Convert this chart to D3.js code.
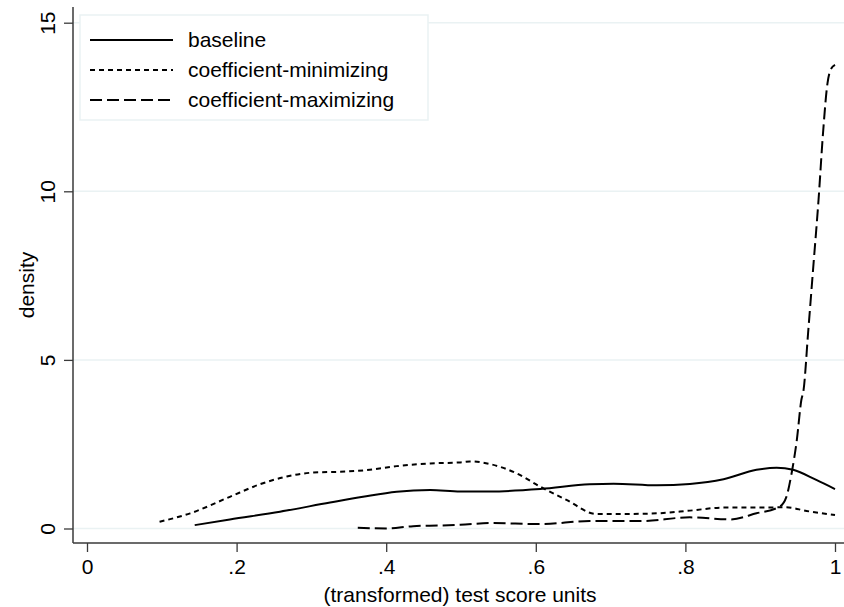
<!DOCTYPE html>
<html>
<head>
<meta charset="utf-8">
<script src="https://cdn.jsdelivr.net/npm/d3@7"></script>
<style>
  body { margin: 0; background: #fff; }
  svg { font-family: "Liberation Sans", Arial, Helvetica, sans-serif; }
</style>
</head>
<body>
<div id="chart"></div>
<script>
// values: [x, density]
var baseline = [
  [0.144, 0.10], [0.191, 0.27], [0.258, 0.50], [0.325, 0.77], [0.369, 0.94],
  [0.414, 1.09], [0.459, 1.14], [0.499, 1.10], [0.539, 1.10], [0.606, 1.17],
  [0.672, 1.31], [0.704, 1.33], [0.762, 1.28], [0.806, 1.32], [0.851, 1.46],
  [0.895, 1.74], [0.922, 1.80], [0.944, 1.74], [0.975, 1.44], [1.0, 1.17]
];
var coefMin = [
  [0.097, 0.20], [0.138, 0.45], [0.191, 0.94], [0.231, 1.31], [0.267, 1.54],
  [0.303, 1.66], [0.347, 1.69], [0.378, 1.74], [0.414, 1.85], [0.459, 1.93],
  [0.499, 1.96], [0.512, 1.99], [0.539, 1.91], [0.574, 1.64], [0.606, 1.24],
  [0.641, 0.85], [0.681, 0.43], [0.717, 0.43], [0.762, 0.45], [0.806, 0.53],
  [0.851, 0.62], [0.895, 0.62], [0.935, 0.63], [0.962, 0.52], [1.0, 0.40]
];
var coefMax = [
  [0.362, 0.02], [0.40, 0.0], [0.436, 0.07], [0.472, 0.09], [0.499, 0.11],
  [0.539, 0.16], [0.606, 0.13], [0.672, 0.22], [0.739, 0.22], [0.806, 0.33],
  [0.860, 0.27], [0.895, 0.45], [0.926, 0.65], [0.935, 0.94], [0.942, 1.64],
  [0.949, 2.63], [0.955, 3.81], [0.958, 4.11], [0.964, 5.79], [0.971, 7.77],
  [0.978, 9.75], [0.984, 11.73], [0.990, 13.21], [0.994, 13.6], [1.0, 13.75]
];
var xTicks = [0, 0.2, 0.4, 0.6, 0.8, 1];
var xTickLabels = ["0", ".2", ".4", ".6", ".8", "1"];
var yTicks = [0, 5, 10, 15];
var seriesNames = ["baseline", "coefficient-minimizing", "coefficient-maximizing"];

var width = 844, height = 607;
var axisLeftX = 73, axisBottomY = 543;

var svg = d3.select("#chart").append("svg")
    .attr("width", width)
    .attr("height", height);

var x = d3.scaleLinear().domain([0, 1]).range([87, 835]);
var y = d3.scaleLinear().domain([0, 15]).range([528.5, 22.7]);

// grid lines
svg.append("g")
    .selectAll("line")
    .data(yTicks)
    .enter()
        .append("line")
        .attr("x1", axisLeftX)
        .attr("x2", width)
        .attr("y1", function(d) { return y(d); })
        .attr("y2", function(d) { return y(d); })
        .attr("stroke", "#eaf2f3")
        .attr("stroke-width", 1.5);

// y axis
var yAxis = svg.append("g")
    .attr("transform", "translate(" + axisLeftX + ",0)")
    .call(d3.axisLeft(y).tickValues(yTicks).tickSize(9).tickSizeOuter(0));
yAxis.select(".domain").remove();
yAxis.append("line")
    .attr("x1", 0).attr("x2", 0)
    .attr("y1", 7).attr("y2", axisBottomY)
    .attr("stroke", "#3a3a3a").attr("stroke-width", 1.5);
yAxis.selectAll(".tick line").attr("stroke", "#3a3a3a").attr("stroke-width", 1.3);
yAxis.selectAll(".tick text").remove();
yAxis.selectAll(".tick")
    .append("text")
    .attr("transform", "translate(-18,0) rotate(-90)")
    .attr("text-anchor", "middle")
    .attr("fill", "#000")
    .style("font-size", "21px")
    .text(function(d) { return d; });

// x axis
var xAxis = svg.append("g")
    .attr("transform", "translate(0," + axisBottomY + ")")
    .call(d3.axisBottom(x).tickValues(xTicks).tickSize(9).tickSizeOuter(0)
        .tickFormat(function(d, i) { return xTickLabels[i]; }));
xAxis.select(".domain").remove();
xAxis.append("line")
    .attr("x1", axisLeftX).attr("x2", width)
    .attr("y1", 0).attr("y2", 0)
    .attr("stroke", "#3a3a3a").attr("stroke-width", 1.5);
xAxis.selectAll(".tick line").attr("stroke", "#3a3a3a").attr("stroke-width", 1.3);
xAxis.selectAll(".tick text")
    .attr("y", 31)
    .attr("dy", 0)
    .attr("fill", "#000")
    .style("font-size", "21px");

// axis titles
svg.append("text")
    .attr("x", 460)
    .attr("y", 602)
    .attr("text-anchor", "middle")
    .style("font-size", "21px")
    .text("(transformed) test score units");

svg.append("text")
    .attr("transform", "translate(34,285) rotate(-90)")
    .attr("text-anchor", "middle")
    .style("font-size", "21px")
    .text("density");

// curves
var line = d3.line()
    .x(function(d) { return x(d[0]); })
    .y(function(d) { return y(d[1]); })
    .curve(d3.curveMonotoneX);

var dashes = [null, "5,4", "12,5"];
var allSeries = [baseline, coefMin, coefMax];

svg.append("g")
    .selectAll("path")
    .data(allSeries)
    .enter()
        .append("path")
        .attr("d", line)
        .attr("fill", "none")
        .attr("stroke", "#000")
        .attr("stroke-width", 2)
        .attr("stroke-dasharray", function(d, i) { return dashes[i]; });

// legend
var legend = svg.append("g");
legend.append("rect")
    .attr("x", 80).attr("y", 15)
    .attr("width", 348).attr("height", 105)
    .attr("fill", "#fff")
    .attr("stroke", "#eaf2f3")
    .attr("stroke-width", 1.5);

var rows = legend.selectAll("g.row")
    .data(seriesNames)
    .enter()
        .append("g")
        .attr("class", "row")
        .attr("transform", function(d, i) { return "translate(0," + (40 + i * 30) + ")"; });
rows.append("line")
    .attr("x1", 90).attr("x2", 173)
    .attr("y1", 0).attr("y2", 0)
    .attr("stroke", "#000")
    .attr("stroke-width", 2)
    .attr("stroke-dasharray", function(d, i) { return dashes[i]; });
rows.append("text")
    .attr("x", 188)
    .attr("y", 7)
    .style("font-size", "21px")
    .text(function(d) { return d; });
</script>
</body>
</html>
